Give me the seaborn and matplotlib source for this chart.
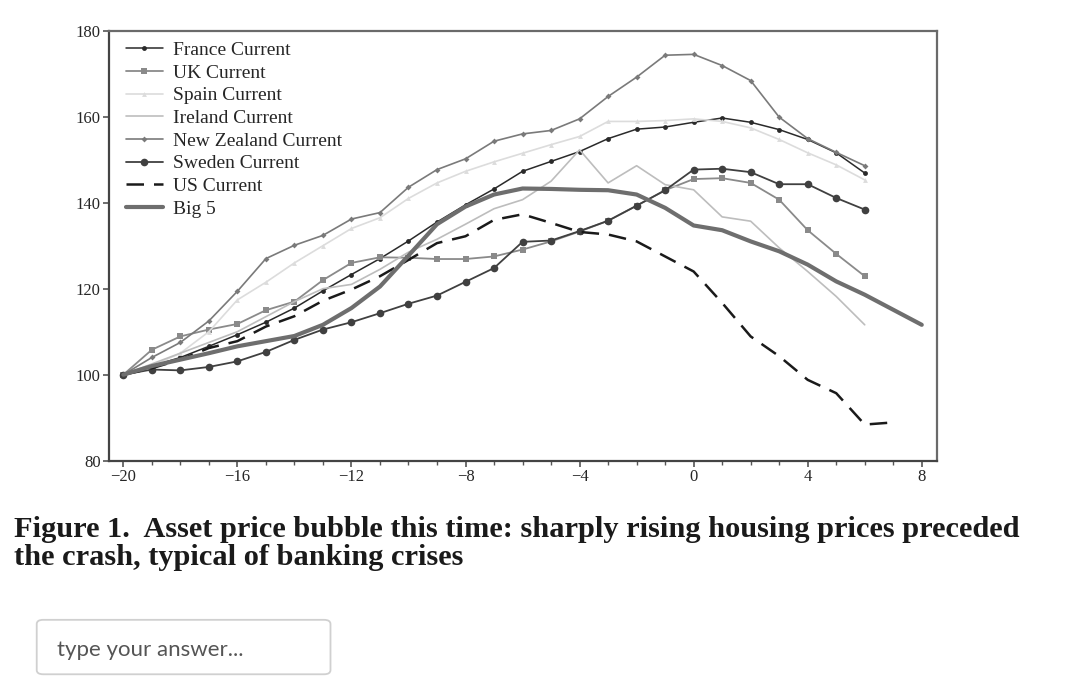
import numpy as np
import pandas as pd
import matplotlib
matplotlib.use("Agg")
import matplotlib.pyplot as plt
import seaborn as sns
from matplotlib.patches import FancyBboxPatch

# Dados (anos em relação à crise, índice = 100 no ano -20)
anos = list(range(-20, 7))
anos_us = list(range(-20, 8))
anos_big5 = list(range(-20, 9))

france = [100, 102, 104, 106.6, 109.3, 112.2, 115.5, 119.5, 123.3, 127, 131.1, 135.5, 139.5,
          143.2, 147.3, 149.6, 151.9, 154.9, 157.1, 157.6, 158.7, 159.7, 158.7, 157, 154.7, 151.6, 146.9]
uk = [100, 105.8, 108.9, 110.5, 111.8, 115, 117, 122, 126, 127.3, 127.2, 126.9, 126.9,
      127.5, 129.1, 131, 133.3, 135.8, 139.3, 142.9, 145.5, 145.7, 144.6, 140.7, 133.6, 128.1, 122.9]
spain = [100, 102, 105, 110, 117.4, 121.5, 126, 130, 134, 136.5, 141, 144.6, 147.3,
         149.5, 151.5, 153.5, 155.4, 158.9, 158.9, 159.1, 159.5, 158.9, 157.4, 154.7, 151.6, 148.8, 145.3]
ireland = [100, 102.5, 105, 107.5, 110, 113.5, 117, 120, 121, 124.5, 128.5, 131.5, 135,
           138.6, 140.7, 145, 152.3, 144.6, 148.6, 144.2, 143, 136.7, 135.7, 129.5, 124, 118.2, 111.6]
nova_zelandia = [100, 104, 107.5, 112.5, 119.4, 127, 130.1, 132.4, 136.2, 137.7, 143.6, 147.7, 150.2,
                 154.3, 156, 156.8, 159.5, 164.7, 169.2, 174.3, 174.5, 171.9, 168.4, 159.9, 154.9, 151.7, 148.6]
suecia = [100, 101.2, 101, 101.8, 103.1, 105.3, 108.1, 110.5, 112.2, 114.3, 116.5, 118.4, 121.6,
          124.8, 130.9, 131.2, 133.4, 135.8, 139.3, 142.9, 147.7, 147.9, 147.1, 144.3, 144.3, 141.1, 138.4]
us = [100, 101.5, 103.5, 106.2, 107.8, 111.2, 113.6, 117.2, 119.8, 122.9, 126.7, 130.6, 132.2,
      136, 137.3, 135.3, 133.2, 132.6, 131, 127.5, 124, 116.7, 108.9, 104.3, 98.8, 95.7, 88.4, 88.9]
big5 = [100, 102, 103.5, 105, 106.6, 107.8, 109, 111.6, 115.5, 120.5, 127.7, 135, 139.1,
        141.9, 143.3, 143.2, 143, 142.9, 141.9, 138.8, 134.7, 133.6, 131, 128.7, 125.6, 121.7, 118.6, 115.1, 111.6]

legenda_txt = ["France Current", "UK Current", "Spain Current", "Ireland Current",
               "New Zealand Current", "Sweden Current", "US Current", "Big 5"]
legenda_fig = "Figure 1.  Asset price bubble this time: sharply rising housing prices preceded\nthe crash, typical of banking crises"

# Configurações de Figura
sns.set_style("ticks")
plt.rcParams["font.family"] = ["Liberation Serif", "DejaVu Serif"]

fig = plt.figure(figsize=(10.8, 6.98), dpi=100)
ax = fig.add_axes([0.101, 0.340, 0.767, 0.616])

series = [
    (anos, france, legenda_txt[0], dict(color="#2a2a2a", marker="o", markersize=3.5, linewidth=1.1)),
    (anos, uk, legenda_txt[1], dict(color="#8a8a8a", marker="s", markersize=5, linewidth=1.3)),
    (anos, spain, legenda_txt[2], dict(color="#dcdcdc", marker="^", markersize=3.5, linewidth=1.2)),
    (anos, ireland, legenda_txt[3], dict(color="#bdbdbd", marker="+", markersize=4, linewidth=1.2)),
    (anos, nova_zelandia, legenda_txt[4], dict(color="#7a7a7a", marker="D", markersize=3, linewidth=1.2)),
    (anos, suecia, legenda_txt[5], dict(color="#404040", marker="o", markersize=5.5, linewidth=1.3)),
    (anos_us, us, legenda_txt[6], dict(color="#1a1a1a", linewidth=1.8, dashes=(7, 4))),
    (anos_big5, big5, legenda_txt[7], dict(color="#6e6e6e", linewidth=3.0)),
]

for xs, ys, nome, estilo in series:
    sns.lineplot(x=xs, y=ys, ax=ax, label=nome, markeredgewidth=0, **estilo)

# Eixos
ax.set_xlim(-20.5, 8.55)
ax.set_ylim(80, 180)
ax.set_xticks(range(-20, 9, 4))
ax.set_xticklabels([str(t).replace("-", "\u2212") for t in range(-20, 9, 4)])
ax.set_xticks(range(-20, 9), minor=True)
ax.set_yticks(range(80, 181, 20))
ax.tick_params(axis="both", which="major", labelsize=12, length=4, width=1.2, color="#555555", pad=2)
ax.tick_params(axis="x", which="minor", length=3, width=1, color="#555555")
for lado in ["top", "right", "bottom", "left"]:
    ax.spines[lado].set_color("#6a6a6a")
    ax.spines[lado].set_linewidth(1.6)
ax.spines["left"].set_color("#444444")
ax.spines["bottom"].set_color("#444444")

# Legenda
leg = ax.legend(loc="upper left", bbox_to_anchor=(0.007, 1.0), frameon=False, fontsize=14,
                labelspacing=0.26, handlelength=1.9, handletextpad=0.55,
                borderaxespad=0.15, borderpad=0.4)

# Título da figura
fig.text(0.013, 0.221, legenda_fig, fontsize=21.9, fontweight="bold",
         family=["Liberation Serif", "DejaVu Serif"], va="center", ha="left",
         linespacing=1.06, color="#1a1a1a")

# Caixa de resposta
caixa = FancyBboxPatch((0.034, 0.034), 0.272, 0.078, boxstyle="round,pad=0,rounding_size=0.006",
                       transform=fig.transFigure, facecolor="white", edgecolor="#d0d0d0", linewidth=1.3)
fig.patches.append(caixa)
fig.text(0.053, 0.069, "type your answer...", fontsize=16, family=["Lato", "DejaVu Sans"],
         color="#555555", va="center", ha="left")

fig.savefig("out.png", dpi=100)
